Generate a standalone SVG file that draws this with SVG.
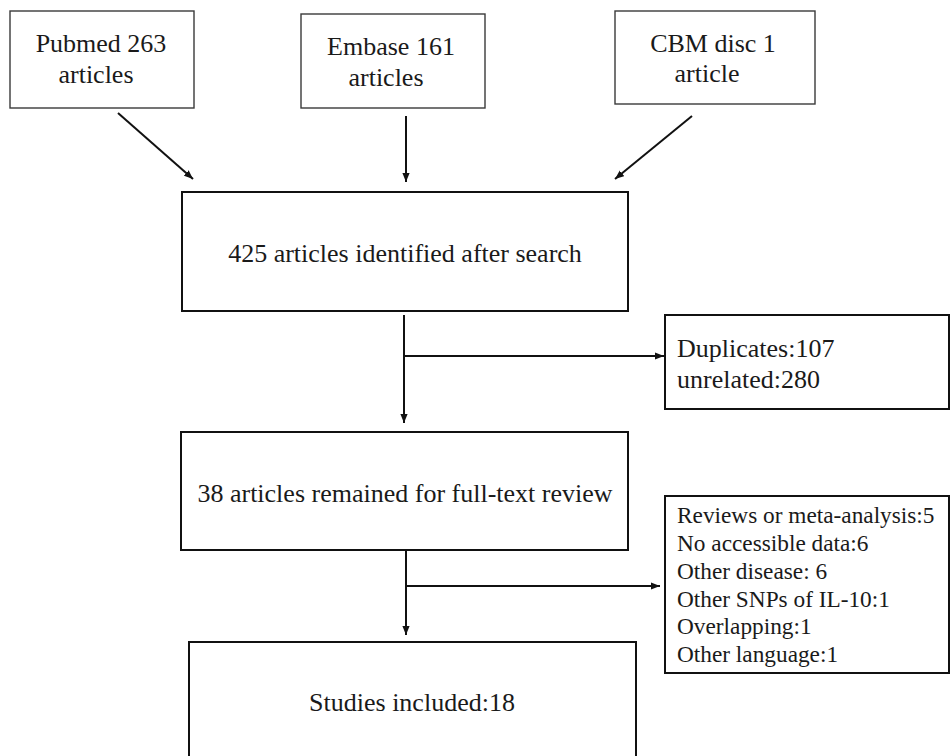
<svg xmlns="http://www.w3.org/2000/svg" width="950" height="756" viewBox="0 0 950 756">
<style>
.bg{fill:#ffffff}
.src{fill:#ffffff;stroke:#3a3a3a;stroke-width:1.4}
.box{fill:#ffffff;stroke:#111111;stroke-width:2}
.t{font-family:'Liberation Serif',Tinos,'Times New Roman','DejaVu Serif',serif;font-size:26px;fill:#1a1a1a}
.s{font-family:'Liberation Serif',Tinos,'Times New Roman','DejaVu Serif',serif;font-size:23.3px;fill:#1a1a1a}
.c{text-anchor:middle}
.ln{fill:none;stroke:#111111;stroke-width:2}
</style>
<defs>
<marker id="ah" viewBox="0 0 10 8" refX="10" refY="4" markerWidth="9" markerHeight="7.5" markerUnits="userSpaceOnUse" orient="auto">
<path d="M0,0 L10,4 L0,8 z" fill="#111111"/>
</marker>
</defs>
<rect class="bg" x="0" y="0" width="950" height="756"/>
<g id="pubmed">
<rect class="src" x="10" y="11" width="184" height="97"/>
<text class="t c" x="101" y="52">Pubmed 263</text>
<text class="t c" x="96" y="83">articles</text>
</g>
<g id="embase">
<rect class="src" x="301" y="14" width="184" height="94"/>
<text class="t c" x="391" y="55">Embase 161</text>
<text class="t c" x="386" y="86">articles</text>
</g>
<g id="cbm">
<rect class="src" x="615" y="11" width="200" height="93"/>
<text class="t c" x="713" y="52">CBM disc 1</text>
<text class="t c" x="707" y="82">article</text>
</g>
<g id="identified">
<rect class="box" x="182" y="192" width="446" height="119"/>
<text class="t c" x="405" y="262">425 articles identified after search</text>
</g>
<g id="excluded1">
<rect class="box" x="665" y="315" width="284" height="94"/>
<text class="t" x="677" y="357">Duplicates:107</text>
<text class="t" x="677" y="388">unrelated:280</text>
</g>
<g id="fulltext">
<rect class="box" x="181" y="432" width="447" height="118"/>
<text class="t c" x="405" y="502">38 articles remained for full-text review</text>
</g>
<g id="excluded2">
<rect class="box" x="665" y="496" width="284" height="177"/>
<text class="s" x="677" y="523">Reviews or meta-analysis:5</text>
<text class="s" x="677" y="551">No accessible data:6</text>
<text class="s" x="677" y="579">Other disease: 6</text>
<text class="s" x="677" y="607">Other SNPs of IL-10:1</text>
<text class="s" x="677" y="634">Overlapping:1</text>
<text class="s" x="677" y="662">Other language:1</text>
</g>
<g id="included">
<rect class="box" x="189" y="642" width="447" height="130"/>
<text class="t c" x="412" y="711">Studies included:18</text>
</g>
<g id="connectors">
<line class="ln" x1="118" y1="113" x2="193" y2="179" marker-end="url(#ah)"/>
<line class="ln" x1="406" y1="116" x2="406" y2="182" marker-end="url(#ah)"/>
<line class="ln" x1="692" y1="116" x2="615" y2="179" marker-end="url(#ah)"/>
<line class="ln" x1="404" y1="315" x2="404" y2="423" marker-end="url(#ah)"/>
<line class="ln" x1="404" y1="356" x2="664" y2="356" marker-end="url(#ah)"/>
<line class="ln" x1="406" y1="550" x2="406" y2="635" marker-end="url(#ah)"/>
<line class="ln" x1="406" y1="586" x2="660" y2="586" marker-end="url(#ah)"/>
</g>
</svg>
